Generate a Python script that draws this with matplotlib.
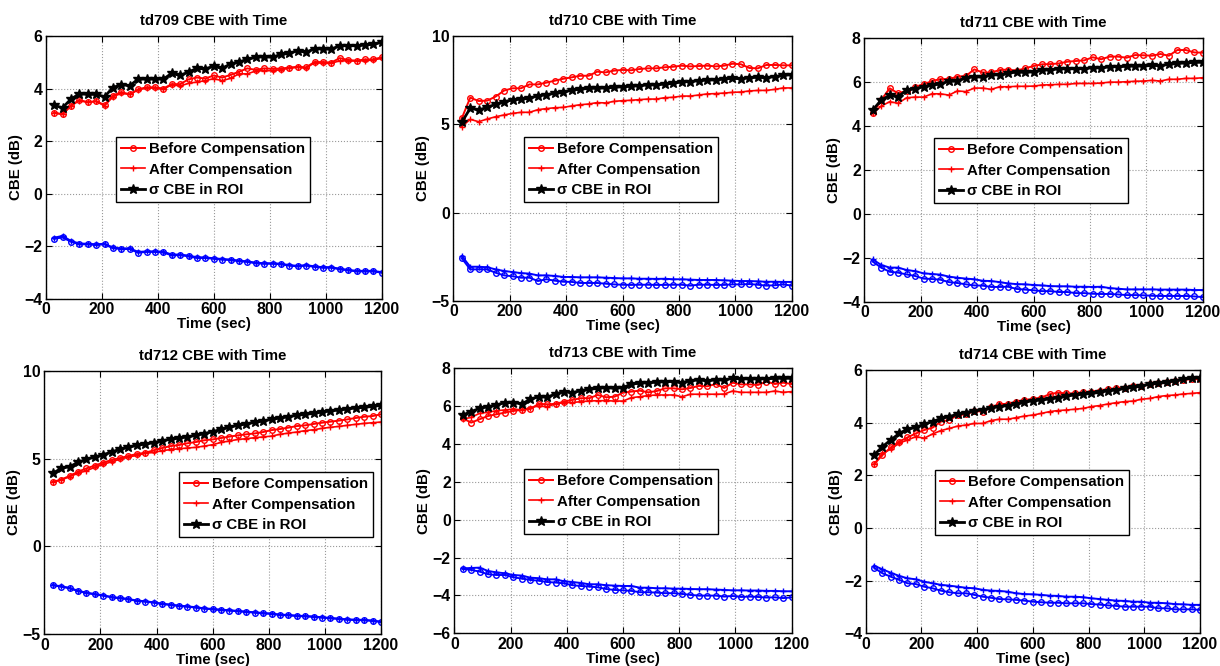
import numpy as np
import matplotlib.pyplot as plt


# ── Data ──────────────────────────────────────────────────────────────────────

TIME = [30, 60, 90, 120, 150, 180, 210, 240, 270, 300,
        330, 360, 390, 420, 450, 480, 510, 540, 570, 600,
        630, 660, 690, 720, 750, 780, 810, 840, 870, 900,
        930, 960, 990, 1020, 1050, 1080, 1110, 1140, 1170, 1200]

TD709_BEFORE = [3.08, 3.02, 3.35, 3.57, 3.48, 3.52, 3.38, 3.73, 3.87, 3.78,
                3.97, 4.05, 4.05, 4.00, 4.17, 4.17, 4.35, 4.42, 4.38, 4.50,
                4.42, 4.52, 4.64, 4.77, 4.71, 4.77, 4.75, 4.76, 4.80, 4.83,
                4.81, 5.01, 5.01, 4.99, 5.16, 5.09, 5.06, 5.11, 5.11, 5.19]
TD709_AFTER = [3.08, 3.03, 3.34, 3.54, 3.48, 3.52, 3.34, 3.69, 3.82, 3.78,
               3.95, 4.02, 4.02, 3.97, 4.15, 4.10, 4.20, 4.25, 4.30, 4.38,
               4.30, 4.39, 4.56, 4.56, 4.67, 4.68, 4.68, 4.72, 4.77, 4.81,
               4.77, 4.99, 4.96, 4.96, 5.06, 5.05, 5.05, 5.06, 5.09, 5.15]
TD709_SIGMA = [3.36, 3.27, 3.60, 3.80, 3.78, 3.78, 3.69, 4.04, 4.15, 4.11,
               4.36, 4.36, 4.36, 4.36, 4.58, 4.50, 4.63, 4.77, 4.75, 4.85,
               4.77, 4.94, 5.01, 5.11, 5.19, 5.21, 5.19, 5.30, 5.34, 5.44,
               5.38, 5.52, 5.50, 5.50, 5.63, 5.63, 5.63, 5.66, 5.68, 5.76]
TD709_LOW_O = [-1.71, -1.66, -1.82, -1.92, -1.92, -1.95, -1.92, -2.07, -2.10, -2.10,
               -2.24, -2.21, -2.21, -2.23, -2.34, -2.33, -2.38, -2.44, -2.44, -2.47,
               -2.50, -2.52, -2.56, -2.59, -2.64, -2.66, -2.66, -2.68, -2.73, -2.76,
               -2.73, -2.78, -2.81, -2.81, -2.87, -2.91, -2.95, -2.95, -2.95, -3.00]
TD709_LOW_P = [-1.67, -1.60, -1.79, -1.89, -1.90, -1.92, -1.90, -2.04, -2.08, -2.07,
               -2.21, -2.19, -2.19, -2.20, -2.31, -2.31, -2.35, -2.41, -2.42, -2.45,
               -2.48, -2.50, -2.54, -2.57, -2.62, -2.64, -2.64, -2.66, -2.71, -2.74,
               -2.71, -2.76, -2.79, -2.79, -2.85, -2.89, -2.93, -2.93, -2.93, -2.98]

TD710_BEFORE = [5.34, 6.51, 6.32, 6.34, 6.57, 6.91, 7.04, 7.04, 7.26, 7.26,
                7.36, 7.47, 7.58, 7.66, 7.75, 7.75, 7.98, 7.94, 8.04, 8.08,
                8.06, 8.13, 8.17, 8.17, 8.23, 8.26, 8.32, 8.28, 8.30, 8.32,
                8.28, 8.32, 8.43, 8.40, 8.19, 8.17, 8.36, 8.36, 8.34, 8.34]
TD710_AFTER = [4.87, 5.28, 5.15, 5.30, 5.43, 5.53, 5.62, 5.68, 5.68, 5.83,
               5.89, 5.94, 5.96, 6.04, 6.11, 6.15, 6.23, 6.21, 6.30, 6.34,
               6.36, 6.40, 6.43, 6.43, 6.51, 6.53, 6.60, 6.60, 6.66, 6.72,
               6.74, 6.77, 6.81, 6.83, 6.89, 6.92, 6.92, 6.98, 7.06, 7.06]
TD710_SIGMA = [5.11, 5.91, 5.81, 5.96, 6.13, 6.28, 6.38, 6.43, 6.47, 6.62,
               6.68, 6.75, 6.81, 6.94, 6.98, 7.04, 7.04, 7.06, 7.09, 7.13,
               7.15, 7.19, 7.23, 7.23, 7.28, 7.32, 7.40, 7.42, 7.47, 7.51,
               7.51, 7.57, 7.60, 7.58, 7.64, 7.66, 7.64, 7.70, 7.77, 7.81]
TD710_LOW_O = [-2.58, -3.21, -3.21, -3.21, -3.40, -3.55, -3.60, -3.68, -3.68, -3.87,
               -3.77, -3.85, -3.91, -3.92, -3.98, -3.98, -3.98, -4.02, -4.06, -4.08,
               -4.09, -4.08, -4.08, -4.09, -4.09, -4.08, -4.08, -4.13, -4.08, -4.08,
               -4.09, -4.09, -4.06, -4.06, -4.04, -4.08, -4.13, -4.11, -4.06, -4.13]
TD710_LOW_P = [-2.45, -3.06, -3.06, -3.09, -3.21, -3.30, -3.36, -3.42, -3.45, -3.55,
               -3.55, -3.58, -3.64, -3.64, -3.66, -3.66, -3.66, -3.68, -3.70, -3.72,
               -3.72, -3.74, -3.74, -3.75, -3.74, -3.77, -3.77, -3.79, -3.81, -3.81,
               -3.81, -3.83, -3.85, -3.87, -3.87, -3.89, -3.91, -3.91, -3.92, -3.92]

TD711_BEFORE = [4.56, 5.17, 5.70, 5.47, 5.59, 5.77, 5.88, 6.03, 6.12, 6.12,
                6.23, 6.26, 6.56, 6.42, 6.42, 6.53, 6.55, 6.50, 6.61, 6.71,
                6.79, 6.80, 6.83, 6.91, 6.94, 6.97, 7.11, 7.02, 7.14, 7.14,
                7.09, 7.21, 7.20, 7.18, 7.26, 7.18, 7.44, 7.44, 7.33, 7.32]
TD711_AFTER = [4.56, 4.89, 5.09, 5.02, 5.27, 5.30, 5.30, 5.45, 5.45, 5.39,
               5.58, 5.55, 5.71, 5.71, 5.65, 5.77, 5.77, 5.79, 5.79, 5.80,
               5.85, 5.86, 5.88, 5.88, 5.92, 5.92, 5.92, 5.94, 5.98, 5.98,
               6.00, 6.02, 6.03, 6.06, 6.03, 6.11, 6.11, 6.15, 6.15, 6.18]
TD711_SIGMA = [4.71, 5.17, 5.38, 5.32, 5.62, 5.68, 5.77, 5.85, 5.89, 6.03,
               6.03, 6.18, 6.23, 6.20, 6.32, 6.30, 6.38, 6.44, 6.42, 6.45,
               6.53, 6.53, 6.59, 6.58, 6.59, 6.59, 6.64, 6.62, 6.68, 6.68,
               6.70, 6.71, 6.71, 6.74, 6.73, 6.79, 6.83, 6.85, 6.88, 6.88]
TD711_LOW_O = [-2.18, -2.45, -2.64, -2.68, -2.76, -2.83, -2.95, -2.97, -3.00, -3.11,
               -3.15, -3.21, -3.26, -3.27, -3.33, -3.33, -3.32, -3.42, -3.45, -3.48,
               -3.52, -3.52, -3.56, -3.56, -3.61, -3.61, -3.64, -3.65, -3.65, -3.67,
               -3.70, -3.70, -3.71, -3.73, -3.74, -3.74, -3.74, -3.74, -3.76, -3.79]
TD711_LOW_P = [-2.08, -2.33, -2.45, -2.45, -2.56, -2.61, -2.71, -2.74, -2.77, -2.86,
               -2.91, -2.95, -2.98, -3.05, -3.06, -3.11, -3.17, -3.20, -3.21, -3.24,
               -3.26, -3.29, -3.30, -3.30, -3.32, -3.32, -3.33, -3.32, -3.38, -3.41,
               -3.44, -3.44, -3.44, -3.44, -3.45, -3.45, -3.45, -3.45, -3.47, -3.47]

TD712_BEFORE = [3.67, 3.80, 4.01, 4.25, 4.44, 4.60, 4.77, 4.92, 5.03, 5.15,
                5.26, 5.33, 5.47, 5.60, 5.71, 5.77, 5.87, 5.94, 6.04, 6.09,
                6.17, 6.25, 6.32, 6.38, 6.43, 6.51, 6.62, 6.68, 6.76, 6.85,
                6.89, 6.97, 7.04, 7.10, 7.16, 7.23, 7.31, 7.38, 7.42, 7.52]
TD712_AFTER = [3.67, 3.78, 3.97, 4.16, 4.31, 4.50, 4.67, 4.82, 4.96, 5.09,
               5.18, 5.30, 5.35, 5.45, 5.51, 5.56, 5.60, 5.64, 5.71, 5.79,
               5.92, 6.00, 6.09, 6.13, 6.19, 6.23, 6.28, 6.38, 6.45, 6.51,
               6.59, 6.64, 6.72, 6.78, 6.83, 6.89, 6.95, 7.00, 7.04, 7.08]
TD712_SIGMA = [4.16, 4.44, 4.54, 4.78, 4.96, 5.09, 5.22, 5.37, 5.54, 5.64,
               5.75, 5.83, 5.90, 6.02, 6.09, 6.17, 6.23, 6.32, 6.42, 6.53,
               6.66, 6.78, 6.89, 6.97, 7.06, 7.14, 7.23, 7.31, 7.38, 7.46,
               7.52, 7.57, 7.65, 7.71, 7.76, 7.82, 7.88, 7.91, 7.97, 8.03]
TD712_LOW_O = [-2.21, -2.29, -2.38, -2.54, -2.65, -2.73, -2.80, -2.90, -2.95, -3.01,
               -3.10, -3.14, -3.20, -3.28, -3.33, -3.39, -3.43, -3.48, -3.54, -3.58,
               -3.62, -3.65, -3.69, -3.73, -3.77, -3.81, -3.84, -3.90, -3.92, -3.96,
               -3.98, -4.01, -4.05, -4.09, -4.13, -4.17, -4.19, -4.20, -4.24, -4.30]
TD712_LOW_P = [-2.19, -2.27, -2.36, -2.52, -2.63, -2.71, -2.78, -2.88, -2.93, -2.99,
               -3.08, -3.12, -3.18, -3.26, -3.31, -3.37, -3.41, -3.46, -3.52, -3.56,
               -3.60, -3.63, -3.67, -3.71, -3.75, -3.79, -3.82, -3.88, -3.90, -3.94,
               -3.96, -3.99, -4.03, -4.07, -4.11, -4.15, -4.17, -4.18, -4.22, -4.28]

TD713_BEFORE = [5.36, 5.13, 5.31, 5.48, 5.57, 5.66, 5.75, 5.80, 5.85, 6.12,
                6.10, 6.12, 6.24, 6.33, 6.42, 6.42, 6.59, 6.47, 6.50, 6.71,
                6.77, 6.82, 6.73, 6.80, 6.94, 6.94, 6.89, 6.96, 7.07, 7.05,
                7.17, 6.96, 7.24, 7.15, 7.15, 7.12, 7.30, 7.17, 7.24, 7.17]
TD713_AFTER = [5.31, 5.41, 5.62, 5.68, 5.76, 5.80, 5.85, 5.80, 5.92, 6.01,
               5.97, 6.12, 6.19, 6.19, 6.24, 6.27, 6.29, 6.29, 6.27, 6.27,
               6.45, 6.50, 6.56, 6.59, 6.59, 6.59, 6.50, 6.63, 6.63, 6.63,
               6.63, 6.64, 6.80, 6.73, 6.73, 6.73, 6.73, 6.80, 6.73, 6.77]
TD713_SIGMA = [5.53, 5.71, 5.89, 5.97, 6.06, 6.19, 6.19, 6.12, 6.36, 6.50,
               6.47, 6.64, 6.77, 6.71, 6.82, 6.89, 6.94, 6.98, 6.94, 6.98,
               7.17, 7.21, 7.24, 7.26, 7.30, 7.30, 7.24, 7.35, 7.38, 7.35,
               7.38, 7.38, 7.47, 7.44, 7.44, 7.44, 7.44, 7.47, 7.47, 7.47]
TD713_LOW_O = [-2.60, -2.65, -2.74, -2.88, -2.92, -2.92, -3.04, -3.11, -3.18, -3.22,
               -3.29, -3.32, -3.36, -3.46, -3.50, -3.53, -3.57, -3.66, -3.71, -3.73,
               -3.76, -3.83, -3.83, -3.85, -3.88, -3.88, -3.92, -3.97, -4.01, -4.01,
               -4.01, -4.06, -4.03, -4.08, -4.06, -4.08, -4.11, -4.10, -4.14, -4.10]
TD713_LOW_P = [-2.57, -2.55, -2.53, -2.71, -2.78, -2.83, -2.92, -2.95, -3.06, -3.09,
               -3.15, -3.15, -3.25, -3.29, -3.34, -3.41, -3.41, -3.46, -3.48, -3.50,
               -3.50, -3.59, -3.59, -3.62, -3.62, -3.64, -3.64, -3.66, -3.67, -3.67,
               -3.69, -3.71, -3.73, -3.73, -3.74, -3.74, -3.76, -3.76, -3.78, -3.78]

TD714_BEFORE = [2.42, 2.77, 3.06, 3.28, 3.44, 3.59, 3.72, 3.81, 4.04, 4.10,
                4.29, 4.32, 4.44, 4.42, 4.58, 4.71, 4.71, 4.80, 4.86, 4.90,
                4.95, 5.08, 5.14, 5.11, 5.11, 5.15, 5.18, 5.22, 5.27, 5.30,
                5.33, 5.39, 5.41, 5.47, 5.52, 5.53, 5.59, 5.62, 5.66, 5.65]
TD714_AFTER = [2.42, 2.84, 2.99, 3.22, 3.34, 3.47, 3.41, 3.57, 3.70, 3.78,
               3.87, 3.91, 3.97, 3.97, 4.08, 4.13, 4.13, 4.19, 4.25, 4.29,
               4.35, 4.42, 4.46, 4.48, 4.51, 4.54, 4.61, 4.65, 4.71, 4.76,
               4.80, 4.82, 4.89, 4.92, 4.99, 5.03, 5.05, 5.09, 5.11, 5.14]
TD714_SIGMA = [2.77, 3.09, 3.34, 3.59, 3.75, 3.82, 3.94, 4.04, 4.16, 4.23,
               4.32, 4.38, 4.46, 4.48, 4.57, 4.61, 4.65, 4.71, 4.77, 4.84,
               4.86, 4.90, 4.95, 5.01, 5.05, 5.08, 5.11, 5.15, 5.22, 5.24,
               5.30, 5.34, 5.39, 5.46, 5.49, 5.53, 5.59, 5.65, 5.68, 5.71]
TD714_LOW_O = [-1.51, -1.72, -1.85, -1.97, -2.10, -2.13, -2.23, -2.29, -2.38, -2.44,
               -2.48, -2.48, -2.54, -2.61, -2.65, -2.70, -2.71, -2.73, -2.76, -2.80,
               -2.82, -2.84, -2.84, -2.86, -2.86, -2.86, -2.89, -2.91, -2.94, -2.96,
               -2.99, -2.99, -2.99, -2.99, -3.05, -3.05, -3.09, -3.09, -3.09, -3.11]
TD714_LOW_P = [-1.43, -1.57, -1.70, -1.82, -1.91, -1.95, -2.04, -2.10, -2.16, -2.19,
               -2.23, -2.27, -2.29, -2.35, -2.38, -2.39, -2.42, -2.48, -2.51, -2.52,
               -2.54, -2.57, -2.58, -2.61, -2.61, -2.63, -2.67, -2.70, -2.73, -2.76,
               -2.77, -2.80, -2.80, -2.84, -2.84, -2.86, -2.89, -2.90, -2.92, -2.92]

NAMES = ["td709", "td710", "td711", "td712", "td713", "td714"]
YLIMS = [(-4, 6), (-5, 10), (-4, 8), (-5, 10), (-6, 8), (-4, 6)]
YSTEPS = [2, 5, 2, 5, 2, 2]

# axes boxes in pixels: x0, y0(top), x1, y1(bottom)
AX_PIX = [
    (45.7, 36.0, 381.7, 299.0),
    (453.3, 36.0, 791.7, 301.0),
    (864.3, 37.7, 1202.7, 301.7),
    (44.3, 370.7, 381.0, 634.3),
    (454.3, 368.3, 791.7, 633.3),
    (865.7, 370.0, 1200.0, 633.3),
]
# legend upper-left corner, pixels
LEG_PIX = [(116, 137), (524, 137), (934, 138), (179, 472), (524, 469), (935, 470)]

W, H = 1220, 666
FS = 10.8


def main():
    plt.rcParams["font.family"] = ["Liberation Sans", "DejaVu Sans"]
    plt.rcParams["font.weight"] = "bold"
    plt.rcParams["axes.labelweight"] = "bold"
    plt.rcParams["axes.titleweight"] = "bold"

    series = [
        (TD709_BEFORE, TD709_AFTER, TD709_SIGMA, TD709_LOW_O, TD709_LOW_P),
        (TD710_BEFORE, TD710_AFTER, TD710_SIGMA, TD710_LOW_O, TD710_LOW_P),
        (TD711_BEFORE, TD711_AFTER, TD711_SIGMA, TD711_LOW_O, TD711_LOW_P),
        (TD712_BEFORE, TD712_AFTER, TD712_SIGMA, TD712_LOW_O, TD712_LOW_P),
        (TD713_BEFORE, TD713_AFTER, TD713_SIGMA, TD713_LOW_O, TD713_LOW_P),
        (TD714_BEFORE, TD714_AFTER, TD714_SIGMA, TD714_LOW_O, TD714_LOW_P),
    ]

    fig = plt.figure(figsize=(W / 100, H / 100), dpi=100)
    t = np.array(TIME)

    for i, (before, after, sigma, low_o, low_p) in enumerate(series):
        x0, y0, x1, y1 = AX_PIX[i]
        ax = fig.add_axes([x0 / W, 1 - y1 / H, (x1 - x0) / W, (y1 - y0) / H])

        ax.plot(t, low_p, color="b", marker="+", ms=5, mew=1.0, lw=1.4)
        ax.plot(t, low_o, color="b", marker="o", ms=4, mfc="none", mew=1.0, lw=1.4)
        ax.plot(t, after, color="r", marker="+", ms=5, mew=1.0, lw=1.2,
                label="After Compensation")
        ax.plot(t, before, color="r", marker="o", ms=4, mfc="none", mew=1.0, lw=1.4,
                label="Before Compensation")
        ax.plot(t, sigma, color="k", marker="*", ms=7, lw=2.0,
                label="σ CBE in ROI")

        lo, hi = YLIMS[i]
        ax.set_xlim(0, 1200)
        ax.set_ylim(lo, hi)
        ax.set_xticks(np.arange(0, 1201, 200))
        ax.set_yticks(np.arange(lo, hi + 0.1, YSTEPS[i]))
        ax.tick_params(direction="in", top=True, right=True, length=4,
                       labelsize=FS + 0.6, pad=2.5)
        ax.grid(True, linestyle=":", color="0.6", linewidth=0.8)
        for sp in ax.spines.values():
            sp.set_linewidth(1.0)

        ax.set_title(f"{NAMES[i]} CBE with Time", fontsize=FS, pad=8)
        ax.set_xlabel("Time (sec)", fontsize=FS, labelpad=0)
        ax.set_ylabel("CBE (dB)", fontsize=FS, labelpad=1)

        handles, labels = ax.get_legend_handles_labels()
        order = [1, 0, 2]
        lx, ly = LEG_PIX[i]
        leg = ax.legend(
            [handles[k] for k in order],
            [labels[k] for k in order],
            loc="upper left",
            bbox_to_anchor=(lx / W, 1 - ly / H),
            bbox_transform=fig.transFigure,
            borderaxespad=0,
            fontsize=FS,
            fancybox=False,
            framealpha=1,
            edgecolor="k",
            handlelength=1.6,
            handletextpad=0.25,
            labelspacing=0.42,
            borderpad=0.35,
        )
        leg.get_frame().set_linewidth(1.0)

    fig.savefig("out.png", dpi=100)


if __name__ == "__main__":
    main()
